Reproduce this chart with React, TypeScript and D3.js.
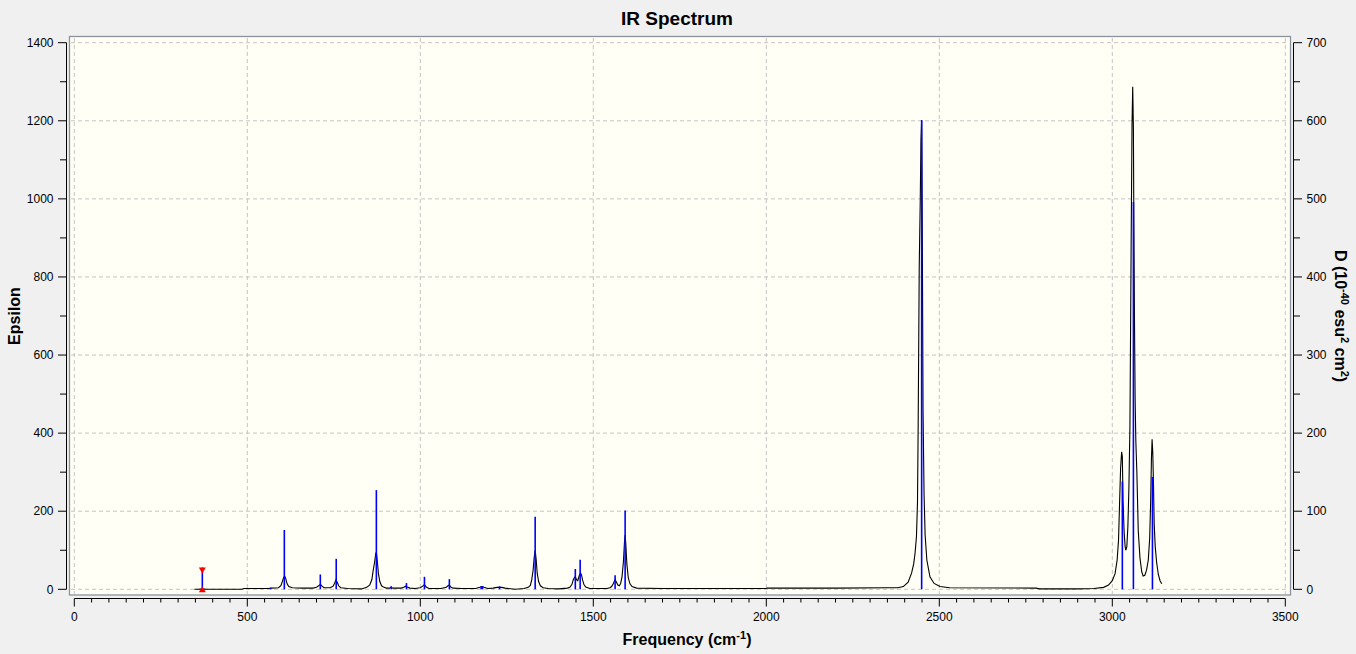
import React from "react";
import * as d3 from "d3";

// ---- data ----
const xTicks = [0, 500, 1000, 1500, 2000, 2500, 3000, 3500];
const epsTicks = [0, 200, 400, 600, 800, 1000, 1200, 1400];
const dTicks = [0, 100, 200, 300, 400, 500, 600, 700];

// stick frequencies (cm-1) and dipole strengths D (10^-40 esu^2 cm^2)
const stickFreq = [568, 607, 711, 757, 873, 916, 960, 1012, 1084, 1176, 1180, 1229, 1332, 1448, 1462, 1563, 1592, 2449, 3029, 3061, 3116];
const stickD = [2, 76, 19, 39, 127, 4, 8, 16, 13, 4, 4, 4, 93, 26, 38, 18, 101, 601, 138, 496, 144];

// broadened spectrum (frequency, epsilon) read point by point
const specFreq = [347, 360, 370, 380, 485, 490, 560, 570, 590, 597, 601, 605, 608, 611, 615, 620, 630, 660, 690, 700, 706, 711, 716, 722, 740, 748, 752, 756, 760, 764, 770, 790, 830, 845, 854, 860, 864, 868, 871, 873, 876, 879, 883, 888, 895, 902, 912, 916, 920, 945, 952, 958, 962, 970, 985, 1000, 1007, 1012, 1017, 1025, 1060, 1075, 1080, 1084, 1088, 1095, 1120, 1160, 1172, 1178, 1184, 1195, 1210, 1222, 1235, 1245, 1275, 1300, 1312, 1318, 1322, 1326, 1329, 1332, 1335, 1338, 1342, 1347, 1355, 1370, 1400, 1425, 1432, 1438, 1442, 1446, 1448, 1452, 1455, 1459, 1463, 1466, 1469, 1473, 1478, 1490, 1540, 1548, 1553, 1558, 1563, 1567, 1571, 1575, 1579, 1583, 1587, 1590, 1592, 1594, 1597, 1601, 1606, 1612, 1625, 1700, 1850, 2000, 2002, 2200, 2350, 2380, 2396, 2410, 2420, 2426, 2430, 2434, 2437, 2439, 2442, 2445, 2447, 2449, 2450, 2451, 2453, 2456, 2459, 2464, 2473, 2485, 2502, 2530, 2780, 2790, 2900, 2947, 2975, 2989, 3000, 3008, 3014, 3018, 3021, 3024, 3027, 3029, 3031, 3034, 3037, 3039, 3042, 3045, 3048, 3051, 3054, 3057, 3059, 3061, 3062, 3064, 3066, 3068, 3071, 3075, 3080, 3085, 3089, 3094, 3099, 3104, 3108, 3111, 3113, 3115, 3117, 3119, 3121, 3124, 3128, 3133, 3138, 3143];
const specEps = [0, 0, 1, 0, 0, 2, 2, 3, 4, 9, 19, 30, 34, 28, 14, 7, 4, 3, 3, 5, 9, 13, 8, 4, 4, 8, 15, 24, 18, 9, 4, 2, 1, 5, 11, 25, 49, 70, 90, 96, 70, 40, 20, 9, 5, 3, 3, 5, 3, 3, 5, 8, 6, 3, 2, 4, 8, 12, 6, 2, 2, 5, 9, 11, 6, 3, 2, 2, 5, 7, 5, 2, 3, 5, 5, 3, 0, 2, 5, 10, 24, 48, 80, 100, 75, 40, 20, 9, 4, 2, 1, 3, 5, 12, 24, 31, 32, 24, 22, 34, 42, 36, 24, 12, 6, 2, 2, 4, 7, 15, 25, 18, 11, 9, 15, 32, 70, 120, 139, 115, 65, 30, 14, 7, 3, 2, 2, 2, 3, 3, 4, 4, 7, 18, 42, 65, 93, 135, 224, 426, 826, 1000, 1150, 1200, 1060, 887, 459, 241, 139, 75, 32, 15, 7, 4, 3, 1, 1, 2, 5, 11, 22, 40, 75, 126, 220, 310, 352, 340, 229, 150, 110, 100, 109, 160, 260, 420, 820, 1190, 1287, 1180, 990, 700, 485, 380, 300, 150, 80, 45, 34, 36, 49, 75, 130, 230, 330, 384, 350, 270, 170, 110, 70, 38, 22, 14];

// selected-mode marker
const markerFreq = 370;
const markerD = 28;

const W = 1356;
const H = 654;
const FONT = "'Liberation Sans', Arial, sans-serif";

export default function App() {
  const x = d3.scaleLinear().domain([0, 3500]).range([74.3, 1285.3]);
  const yE = d3.scaleLinear().domain([0, 1400]).range([589.3, 42.7]);
  const yD = d3.scaleLinear().domain([0, 700]).range([589.3, 42.7]);

  const spec = specFreq.map((f, i) => [f, specEps[i]] as [number, number]);
  const line = d3
    .line<[number, number]>()
    .x((d) => x(d[0]))
    .y((d) => yE(d[1]));

  const xMinor = d3.range(0, 3501, 50);
  const eMinor = d3.range(0, 1401, 100);
  const dMinor = d3.range(0, 701, 50);

  const mx = x(markerFreq);
  const mTop = yD(markerD);
  const mBot = yD(0);

  return (
    <div style={{ position: "fixed", left: 0, top: 0 }}>
      <svg width={W} height={H} style={{ display: "block" }}>
        <rect x={0} y={0} width={W} height={H} fill="#f0f0f0" />
        {/* plot frame */}
        <rect x={69.5} y={36.5} width={1221} height={558.5} fill="#fffff5" stroke="#8a929b" strokeWidth={1.3} />
        {/* grid */}
        <g stroke="#c4c4c4" strokeDasharray="4,3" strokeWidth={1}>
          {xTicks.map((t) => (
            <line key={"gx" + t} x1={x(t)} x2={x(t)} y1={38} y2={594} />
          ))}
          {epsTicks.map((t) => (
            <line key={"gy" + t} x1={71} x2={1289} y1={yE(t)} y2={yE(t)} />
          ))}
        </g>
        {/* spectrum */}
        <path d={line(spec) || ""} fill="none" stroke="#000" strokeWidth={1.1} />
        {/* sticks */}
        <g stroke="#0000ff" strokeWidth={1.6}>
          {stickFreq.map((f, i) => (
            <line key={"s" + i} x1={x(f)} x2={x(f)} y1={yD(0)} y2={yD(stickD[i])} />
          ))}
        </g>
        {/* marker */}
        <line x1={mx} x2={mx} y1={mTop} y2={mBot} stroke="#0000ff" strokeWidth={1.6} />
        <path d={`M${mx - 3.5},${mTop} L${mx + 3.5},${mTop} L${mx},${mTop + 6} Z`} fill="#ff0000" />
        <path d={`M${mx - 3.5},${mBot + 3} L${mx + 3.5},${mBot + 3} L${mx},${mBot - 3} Z`} fill="#ff0000" />

        {/* left axis */}
        <g stroke="#000" strokeWidth={1}>
          <line x1={66.5} x2={66.5} y1={yE(1400)} y2={yE(0)} />
          {eMinor.map((t) => (
            <line key={"le" + t} x1={t % 200 === 0 ? 58 : 60} x2={66.5} y1={yE(t)} y2={yE(t)} />
          ))}
          <line x1={1293.5} x2={1293.5} y1={yD(700)} y2={yD(0)} />
          {dMinor.map((t) => (
            <line key={"rd" + t} x1={1293.5} x2={t % 100 === 0 ? 1302 : 1300} y1={yD(t)} y2={yD(t)} />
          ))}
          <line x1={x(0)} x2={x(3500)} y1={598.5} y2={598.5} />
          {xMinor.map((t) => (
            <line key={"bx" + t} x1={x(t)} x2={x(t)} y1={598.5} y2={t % 500 === 0 ? 606.5 : 602.5} />
          ))}
        </g>
        <g fontFamily={FONT} fontSize={12} fill="#000">
          {epsTicks.map((t) => (
            <text key={"lt" + t} x={53.5} y={yE(t)} dy="0.35em" textAnchor="end">
              {t}
            </text>
          ))}
          {dTicks.map((t) => (
            <text key={"rt" + t} x={1306.5} y={yD(t)} dy="0.35em" textAnchor="start">
              {t}
            </text>
          ))}
          {xTicks.map((t) => (
            <text key={"bt" + t} x={x(t)} y={621} textAnchor="middle">
              {t}
            </text>
          ))}
        </g>
        {/* titles */}
        <text x={677} y={25} textAnchor="middle" fontFamily={FONT} fontWeight="bold" fontSize={19}>
          IR Spectrum
        </text>
        <text x={687} y={645} textAnchor="middle" fontFamily={FONT} fontWeight="bold" fontSize={16}>
          Frequency (cm<tspan dy={-6} fontSize={11}>-1</tspan>
          <tspan dy={6}>)</tspan>
        </text>
        <text transform="translate(20,316) rotate(-90)" textAnchor="middle" fontFamily={FONT} fontWeight="bold" fontSize={16}>
          Epsilon
        </text>
        <text transform="translate(1335,316) rotate(90)" textAnchor="middle" fontFamily={FONT} fontWeight="bold" fontSize={16}>
          D (10<tspan dy={-6} fontSize={11}>-40</tspan>
          <tspan dy={6}> esu</tspan>
          <tspan dy={-6} fontSize={11}>2</tspan>
          <tspan dy={6}> cm</tspan>
          <tspan dy={-6} fontSize={11}>2</tspan>
          <tspan dy={6}>)</tspan>
        </text>
      </svg>
    </div>
  );
}
